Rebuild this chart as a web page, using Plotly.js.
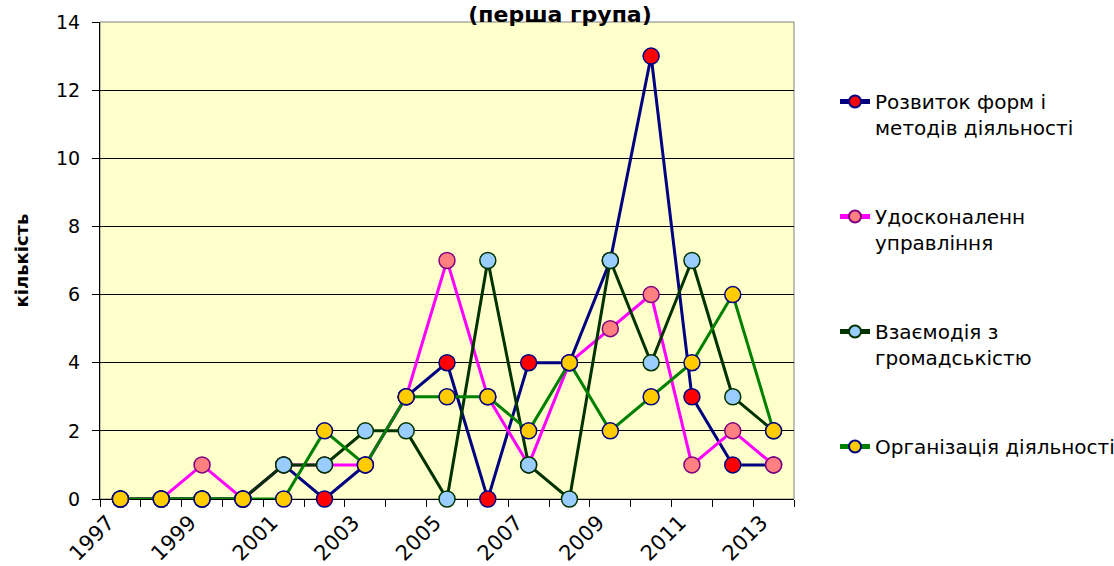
<!DOCTYPE html>
<html>
<head>
<meta charset="utf-8">
<script src="https://cdn.plot.ly/plotly-3.0.1.min.js"></script>
<style>
html,body{margin:0;padding:0;background:#fff;}
#chart{width:1114px;height:566px;}
</style>
</head>
<body>
<div id="chart"></div>
<script>
const years = [1997,1998,1999,2000,2001,2002,2003,2004,2005,2006,2007,2008,2009,2010,2011,2012,2013];
const rozvytok = [0,0,0,0,1,0,1,3,4,0,4,4,7,13,3,1,1];
const udoskonalennia = [0,0,1,0,1,1,1,3,7,3,1,4,5,6,1,2,1];
const vzaiemodiia = [0,0,0,0,1,1,2,2,0,7,1,0,7,4,7,3,2];
const orhanizatsiia = [0,0,0,0,0,2,1,3,3,3,2,4,2,3,4,6,2];
const seriesNames = [
  "Розвиток форм і<br>методів діяльності",
  "Удосконаленн<br>управління",
  "Взаємодія з<br>громадськістю",
  "Організація діяльності"
];
const titleText = "(перша група)";
const yTitle = "кількість";

const FONT = "DejaVu Sans, Arial, sans-serif";
function tr(y, name, lineColor, fill, edge, grp) {
  return {
    type: "scatter", mode: "lines+markers", x: years, y: y, name: name,
    legendgroup: grp,
    line: {color: lineColor, width: 3},
    marker: {size: 16, color: fill, line: {color: edge, width: 1.5}},
    cliponaxis: false
  };
}
const data = [
  tr(rozvytok, seriesNames[0], "#000080", "#FF0000", "#000080", "g1"),
  tr(udoskonalennia, seriesNames[1], "#FF00FF", "#FF8080", "#800080", "g2"),
  tr(vzaiemodiia, seriesNames[2], "#003300", "#99CCFF", "#003300", "g3"),
  tr(orhanizatsiia, seriesNames[3], "#008000", "#FFCC00", "#000080", "g4")
];
const layout = {
  width: 1114, height: 566,
  margin: {l: 100, r: 320, t: 22, b: 67, pad: 0},
  paper_bgcolor: "#FFFFFF",
  plot_bgcolor: "#FFFFCC",
  font: {family: FONT, color: "#000000"},
  title: {
    text: titleText, font: {family: FONT, size: 22, weight: "bold", color: "#000"},
    xref: "container", x: 560/1114, xanchor: "center",
    yref: "container", y: 1 - 14/566, yanchor: "middle", pad: {t: 0, b: 0}
  },
  xaxis: {
    type: "linear", range: [1996.5, 2013.5],
    tick0: 1997, dtick: 2, ticks: "", tickangle: -45,
    tickfont: {family: FONT, size: 21},
    ticklabelstandoff: 2, ticklabelshift: -12,
    showgrid: false, zeroline: false,
    showline: true, linecolor: "#000000", linewidth: 1,
    minor: {tick0: 1996.5, dtick: 1, ticks: "outside", ticklen: 7, tickcolor: "#000", tickwidth: 1, showgrid: false},
    layer: "below traces", fixedrange: true
  },
  yaxis: {
    range: [0, 14], dtick: 2, tick0: 0,
    ticks: "outside", ticklen: 7, tickcolor: "#000",
    ticklabelstandoff: 8,
    tickfont: {family: FONT, size: 19},
    showgrid: true, gridcolor: "#000000", gridwidth: 1,
    zeroline: false, showline: true, linecolor: "#000000", linewidth: 1,
    layer: "below traces", fixedrange: true,
    title: {text: yTitle, font: {family: FONT, size: 18, weight: "bold"}, standoff: 22}
  },
  shapes: [{
    type: "rect", xref: "paper", yref: "paper", x0: 0, x1: 1, y0: 0, y1: 1,
    line: {color: "#808080", width: 1}, layer: "below"
  }],
  showlegend: true,
  legend: {
    xref: "container", yref: "container",
    x: 835/1114, xanchor: "left",
    y: 1 - 82/566, yanchor: "top",
    maxheight: 1,
    traceorder: "grouped", tracegroupgap: 60,
    valign: "top", itemsizing: "constant",
    font: {family: FONT, size: 20, color: "#000"},
    bgcolor: "rgba(0,0,0,0)", borderwidth: 0
  }
};
Plotly.newPlot("chart", data, layout, {displayModeBar: false, staticPlot: true});
</script>
</body>
</html>
